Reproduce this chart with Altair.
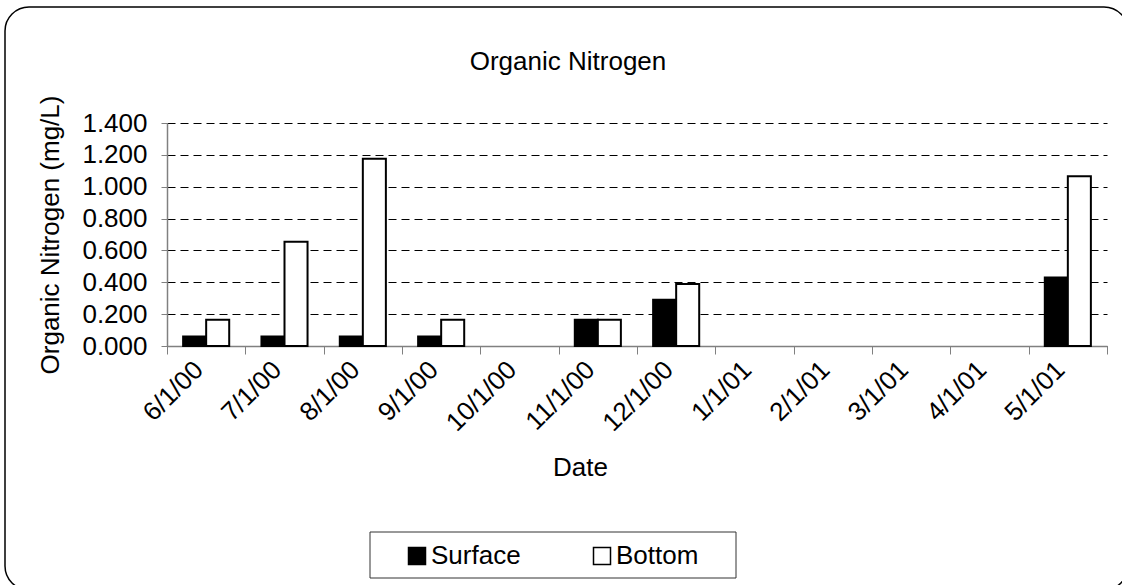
import altair as alt
import pandas as pd

# Sampling dates (one category per month) and measured organic nitrogen, mg/L
months = ["6/1/00", "7/1/00", "8/1/00", "9/1/00", "10/1/00", "11/1/00",
          "12/1/00", "1/1/01", "2/1/01", "3/1/01", "4/1/01", "5/1/01"]
surface = [0.06, 0.06, 0.06, 0.06, None, 0.165, 0.29, None, None, None, None, 0.43]
bottom = [0.165, 0.655, 1.175, 0.165, None, 0.165, 0.39, None, None, None, None, 1.065]
series = ["Surface", "Bottom"]
y_ticks = [0.0, 0.2, 0.4, 0.6, 0.8, 1.0, 1.2, 1.4]
chart_title = ["Organic Nitrogen"]

rows = []
for m, s, b in zip(months, surface, bottom):
    for name, v in zip(series, (s, b)):
        if v is not None:
            rows.append({"date": m, "series": name, "value": v})
df = pd.DataFrame(rows)

FONT = "Liberation Sans"
FS = 26
W, H = 940, 223
LEFT, TOP = 167, 123

bars = alt.Chart(df).mark_bar(stroke="black", strokeWidth=2).encode(
    x=alt.X(
        "date:N",
        sort=months,
        scale=alt.Scale(domain=months, paddingInner=0, paddingOuter=0),
        axis=alt.Axis(
            title="Date",
            labelAngle=-45,
            labelAlign="right",
            labelBaseline="alphabetic",
            labelPadding=17,
            labelOffset=-2,
            tickBand="extent",
            tickSize=8,
            grid=False,
            titleX=413,
            titleY=129,
            titleAlign="center",
            titleBaseline="alphabetic",
        ),
    ),
    xOffset=alt.XOffset(
        "series:N",
        sort=series,
        scale=alt.Scale(domain=series, paddingInner=0, paddingOuter=0.7),
    ),
    y=alt.Y(
        "value:Q",
        scale=alt.Scale(domain=[0, 1.4], nice=False),
        axis=alt.Axis(
            title="Organic Nitrogen (mg/L)",
            values=y_ticks,
            format=".3f",
            tickSize=6,
            labelPadding=14,
            grid=True,
            gridColor="black",
            gridDash=[8, 5],
            gridWidth=1,
            titleAngle=-90,
            titleX=-109,
            titleY=H / 2,
            titleAlign="center",
            titleBaseline="alphabetic",
        ),
    ),
    fill=alt.Fill(
        "series:N",
        sort=series,
        scale=alt.Scale(domain=series, range=["black", "white"]),
        legend=alt.Legend(
            title=None,
            orient="none",
            legendX=237,
            legendY=420,
            direction="horizontal",
            symbolType="square",
            symbolSize=289,
            symbolStrokeColor="black",
            symbolStrokeWidth=1.5,
            labelFont=FONT,
            labelFontSize=FS,
            labelColor="black",
            labelOffset=1,
            columnPadding=68,
            padding=0,
        ),
    ),
)

# Chart heading, centred over the whole frame
heading = alt.Chart(alt.Data(values=[{"t": t} for t in chart_title])).mark_text(
    font=FONT, fontSize=FS, color="black", align="center", baseline="alphabetic"
).encode(
    text="t:N",
    x=alt.value(568 - LEFT),
    y=alt.value(70 - TOP),
)

# Rounded outer border of the chart
frame = alt.Chart(alt.Data(values=[{}])).mark_rect(
    fill="transparent", stroke="black", strokeWidth=1.5, cornerRadius=24
).encode(
    x=alt.value(5 - LEFT), x2=alt.value(1128 - LEFT),
    y=alt.value(7 - TOP), y2=alt.value(590 - TOP),
)

# Box around the legend
legend_box = alt.Chart(alt.Data(values=[{}])).mark_rect(
    fill="white", stroke="#333333", strokeWidth=1
).encode(
    x=alt.value(370 - LEFT), x2=alt.value(736 - LEFT),
    y=alt.value(532 - TOP), y2=alt.value(578 - TOP),
)

chart = alt.layer(frame, legend_box, heading, bars).properties(
    width=W,
    height=H,
    autosize=alt.AutoSizeParams(type="none"),
    padding={"left": LEFT, "top": TOP, "right": 1122 - LEFT - W, "bottom": 585 - TOP - H},
    background="white",
).configure_view(stroke=None).configure_axis(
    labelFont=FONT,
    labelFontSize=FS,
    labelColor="black",
    titleFont=FONT,
    titleFontSize=FS,
    titleFontWeight="normal",
    titleColor="black",
    domainColor="#808080",
    domainWidth=1.5,
    tickColor="#808080",
    tickWidth=1,
)

chart.save("out.html", embed_options={"renderer": "svg", "actions": False})
